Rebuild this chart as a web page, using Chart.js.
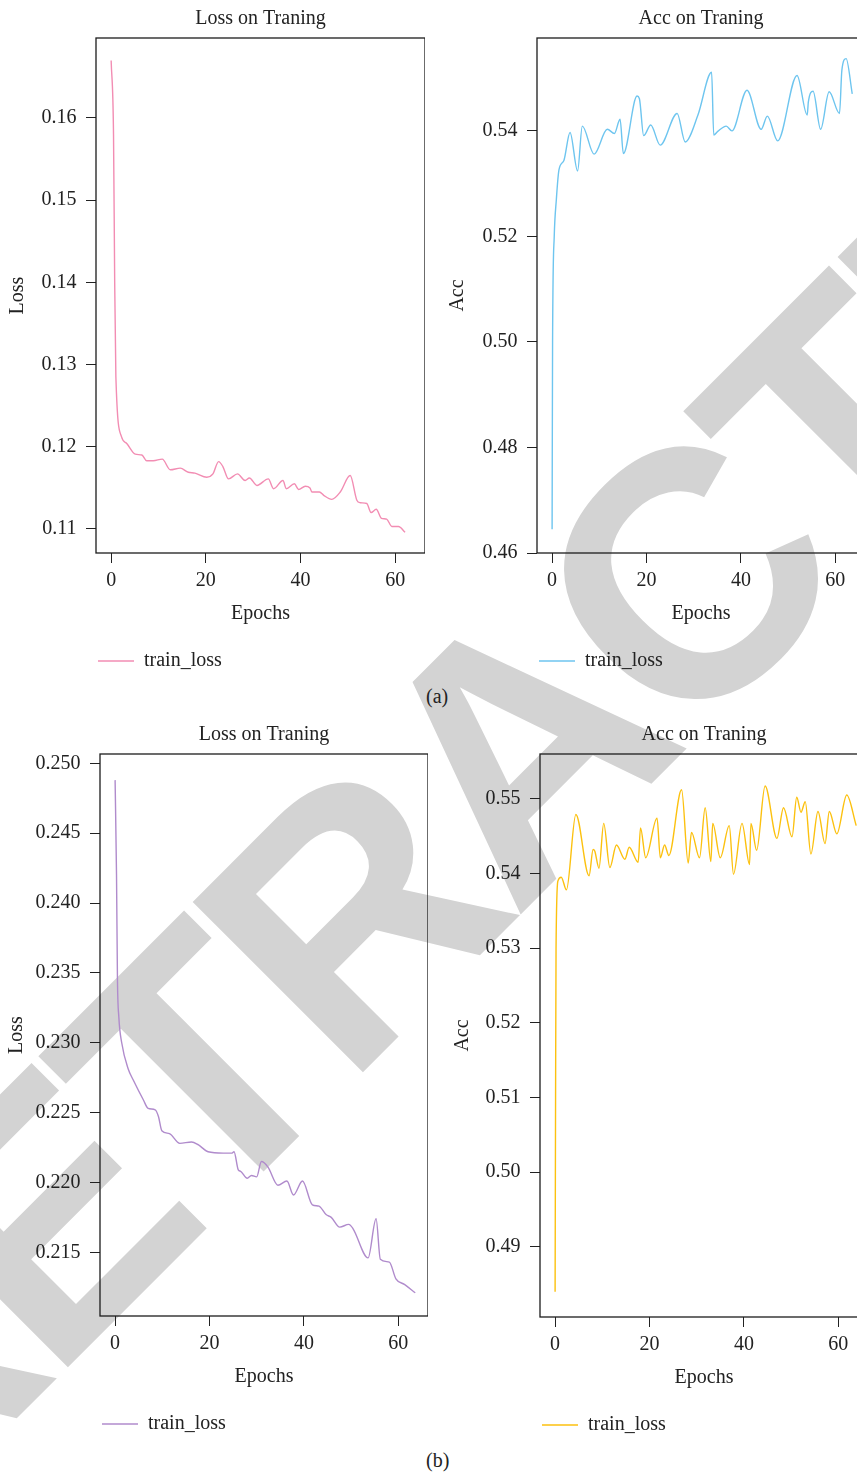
<!DOCTYPE html>
<html>
<head>
<meta charset="utf-8">
<script src="https://cdn.jsdelivr.net/npm/chart.js@4.4.0/dist/chart.umd.min.js"></script>
<style>
  html, body { margin: 0; padding: 0; background: #fff; }
  body { width: 857px; height: 1475px; position: relative; overflow: hidden; font-family: 'Liberation Serif', 'DejaVu Serif', serif; }
  canvas { position: absolute; z-index: 1; }
  #stamp {
    position: absolute; left: 513px; top: 751px; z-index: 0;
    transform: translate(-50%, -50%) rotate(-45deg);
    font: bold 350px 'Liberation Sans', Arial, sans-serif;
    letter-spacing: -15px;
    color: #d3d3d3; line-height: 1; white-space: nowrap;
  }
  .sub { position: absolute; z-index: 1; font-size: 20px; line-height: 20px; color: #222; }
</style>
</head>
<body>
<div id="stamp">RETRACTED</div>
<canvas id="lossA"></canvas>
<canvas id="accA"></canvas>
<canvas id="lossB"></canvas>
<canvas id="accB"></canvas>
<div class="sub" style="left:426px;top:686px">(a)</div>
<div class="sub" style="left:426px;top:1450px">(b)</div>
<script>
// ── data (epoch, value)
const xTicks = [0, 20, 40, 60];

// (a) loss
const lossAEpochs = [0, 0.5, 0.75, 1.0, 2.2, 3.3, 5.1, 6.5, 7.5, 8.9, 10.8, 12.5, 14.6, 16.3, 17.7, 20.2,
  21.5, 22.7, 23.6, 24.8, 26.7, 28.3, 29.2, 30.8, 33.2, 34.3, 36.3, 37.0, 38.7, 39.6, 41.0, 42.0, 42.4,
  44.0, 44.9, 46.6, 48.4, 50.5, 51.9, 52.6, 54.0, 54.9, 56.0, 57.1, 58.2, 59.3, 60.7, 62.1];
const lossAValues = [0.1670, 0.1580, 0.1400, 0.1285, 0.1212, 0.1204, 0.1191, 0.1190, 0.1183, 0.1183, 0.1185,
  0.1172, 0.1174, 0.1169, 0.1168, 0.1163, 0.1167, 0.1182, 0.1176, 0.1161, 0.1167, 0.1159, 0.1162, 0.1153,
  0.1161, 0.1149, 0.1159, 0.1149, 0.1155, 0.1148, 0.1152, 0.1150, 0.1145, 0.1145, 0.1141, 0.1136, 0.1145,
  0.1165, 0.1135, 0.1132, 0.1131, 0.1120, 0.1124, 0.1113, 0.1112, 0.1103, 0.1103, 0.1096];
const lossATicks = [0.11, 0.12, 0.13, 0.14, 0.15, 0.16];

// (a) acc
const accAEpochs = [0, 0.1, 0.45, 0.9, 1.45, 2.5, 3.8, 5.4, 6.4, 8.9, 11.7, 13.2, 14.4, 15.1, 18.0, 18.5,
  19.4, 20.9, 22.9, 26.5, 28.2, 30.9, 33.8, 34.25, 35.1, 36.9, 38.1, 41.3, 44.3, 45.6, 47.8, 51.9, 54.05,
  54.3, 55.3, 56.9, 58.7, 60.9, 61.4, 62.3, 63.6];
const accAValues = [0.4645, 0.5000, 0.5200, 0.5270, 0.5326, 0.5344, 0.5397, 0.5324, 0.5409, 0.5356, 0.5403,
  0.5395, 0.5422, 0.5357, 0.5466, 0.5461, 0.5391, 0.5411, 0.5373, 0.5433, 0.5379, 0.5430, 0.5511, 0.5392,
  0.5399, 0.5409, 0.5400, 0.5477, 0.5403, 0.5428, 0.5381, 0.5505, 0.5430, 0.5455, 0.5475, 0.5403, 0.5474,
  0.5433, 0.5515, 0.5537, 0.5470];
const accATicks = [0.46, 0.48, 0.50, 0.52, 0.54];

// (b) loss
const lossBEpochs = [0, 0.3, 0.5, 0.8, 1.4, 2.8, 3.9, 6.0, 7.0, 8.5, 9.2, 9.9, 11.5, 13.7, 16.2, 17.6, 19.7,
  22.9, 24.7, 25.2, 26.1, 26.6, 28.0, 28.9, 30.0, 31.0, 32.4, 34.5, 36.4, 37.8, 39.7, 41.8, 43.2, 44.7,
  45.8, 47.6, 49.5, 50.4, 53.6, 55.3, 56.2, 58.1, 59.5, 61.3, 63.6];
const lossBValues = [0.2488, 0.2420, 0.2345, 0.2318, 0.2300, 0.2281, 0.2273, 0.2259, 0.2253, 0.2252, 0.2247,
  0.2237, 0.2235, 0.2228, 0.2229, 0.2227, 0.2222, 0.2221, 0.2221, 0.2222, 0.2209, 0.2208, 0.2203, 0.2205,
  0.2204, 0.2215, 0.2211, 0.2198, 0.2201, 0.2191, 0.2201, 0.2184, 0.2183, 0.2177, 0.2175, 0.2168, 0.2170,
  0.2167, 0.2146, 0.2174, 0.2145, 0.2143, 0.2131, 0.2127, 0.2121];
const lossBTicks = [0.215, 0.220, 0.225, 0.230, 0.235, 0.240, 0.245, 0.250];

// (b) acc
const accBEpochs = [0, 0.1, 0.2, 0.6, 1.3, 2.4, 4.4, 7.2, 8.05, 8.4, 9.3, 10.3, 11.6, 13.0, 14.8, 15.7, 17.6,
  18.1, 19.2, 21.6, 22.3, 23.2, 24.1, 26.8, 28.2, 28.9, 30.6, 31.8, 33.0, 33.4, 35.0, 36.9, 37.8, 39.6,
  41.2, 41.5, 42.7, 44.5, 47.0, 48.4, 50.2, 51.2, 52.1, 53.0, 54.2, 55.7, 57.2, 58.1, 59.7, 61.8, 63.8];
const accBValues = [0.4840, 0.5100, 0.5300, 0.5390, 0.5395, 0.5378, 0.5479, 0.5397, 0.5432, 0.5430, 0.5407,
  0.5467, 0.5408, 0.5438, 0.5419, 0.5435, 0.5415, 0.5461, 0.5421, 0.5474, 0.5421, 0.5438, 0.5424, 0.5512,
  0.5414, 0.5455, 0.5421, 0.5488, 0.5416, 0.5467, 0.5421, 0.5464, 0.5399, 0.5467, 0.5412, 0.5467, 0.5431,
  0.5517, 0.5447, 0.5488, 0.5449, 0.5502, 0.5482, 0.5496, 0.5426, 0.5483, 0.5440, 0.5483, 0.5453, 0.5505,
  0.5464];
const accBTicks = [0.49, 0.50, 0.51, 0.52, 0.53, 0.54, 0.55];

const INK = '#222';
Chart.defaults.font.family = "'Liberation Serif', 'DejaVu Serif', serif";
Chart.defaults.font.size = 20;
Chart.defaults.color = INK;

// full box around the plot area (chart.js only draws the axis sides)
const framePlugin = {
  id: 'frame',
  afterDatasetsDraw(chart) {
    const { ctx, chartArea: a } = chart;
    ctx.save();
    ctx.strokeStyle = '#1c1c1c';
    ctx.lineWidth = 1.3;
    ctx.strokeRect(a.left, a.top, a.right - a.left, a.bottom - a.top);
    ctx.restore();
  }
};

function buildTrainChart(id, s) {
  const el = document.getElementById(id);
  el.width = s.width;
  el.height = s.height;
  Object.assign(el.style, { left: s.left + 'px', top: s.top + 'px', width: s.width + 'px', height: s.height + 'px' });

  return new Chart(el, {
    type: 'line',
    data: {
      datasets: [{
        label: 'train_loss',
        data: s.epochs.map((x, i) => ({ x, y: s.values[i] })),
        borderColor: s.color,
        backgroundColor: s.color,
        borderWidth: 1.4,
        pointRadius: 0,
        cubicInterpolationMode: 'monotone',
        fill: false
      }]
    },
    options: {
      responsive: false,
      animation: false,
      devicePixelRatio: 1,
      layout: { padding: 0 },
      plugins: {
        title: {
          display: true, text: s.title, fullSize: false, color: INK,
          font: { size: 20, weight: 'normal' },
          padding: { top: 7, bottom: 7 }
        },
        legend: {
          position: 'bottom', align: 'start', fullSize: false,
          labels: {
            usePointStyle: true, pointStyle: 'line', pointStyleWidth: 36,
            padding: 2, color: INK, font: { size: 20 }
          }
        },
        tooltip: { enabled: false }
      },
      scales: {
        x: {
          type: 'linear', min: -3.2, max: 66.3,
          afterBuildTicks: sc => { sc.ticks = xTicks.map(v => ({ value: v })); },
          afterFit: sc => { sc.height = 96; },
          grid: { drawOnChartArea: false, tickLength: 10, color: INK },
          border: { display: false },
          ticks: { padding: 6, color: INK },
          title: { display: true, text: 'Epochs', color: INK, padding: { top: 0, bottom: 23 } }
        },
        y: {
          type: 'linear', min: s.yMin, max: s.yMax,
          afterBuildTicks: sc => { sc.ticks = s.yTicks.map(v => ({ value: v })); },
          afterFit: sc => { sc.width = s.yWidth; },
          grid: { drawOnChartArea: false, tickLength: 10, color: INK },
          border: { display: false },
          ticks: { padding: 9.5, color: INK, callback: v => v.toFixed(s.digits) },
          title: { display: true, text: s.yLabel, color: INK, padding: { top: s.yTitlePad, bottom: 0 } }
        }
      }
    },
    plugins: [framePlugin]
  });
}

buildTrainChart('lossA', {
  left: 0, top: 0, width: 425, height: 681, yWidth: 96, yTitlePad: 6,
  epochs: lossAEpochs, values: lossAValues, yTicks: lossATicks, digits: 2,
  yMin: 0.10708, yMax: 0.16973, title: 'Loss on Traning', yLabel: 'Loss', color: '#f28db3'
});
buildTrainChart('accA', {
  left: 441, top: 0, width: 424, height: 681, yWidth: 96, yTitlePad: 5,
  epochs: accAEpochs, values: accAValues, yTicks: accATicks, digits: 2,
  yMin: 0.46, yMax: 0.5576, title: 'Acc on Traning', yLabel: 'Acc', color: '#6ec5ef'
});
buildTrainChart('lossB', {
  left: 0, top: 716, width: 428, height: 728, yWidth: 100, yTitlePad: 4.5,
  epochs: lossBEpochs, values: lossBValues, yTicks: lossBTicks, digits: 3,
  yMin: 0.21044, yMax: 0.25067, title: 'Loss on Traning', yLabel: 'Loss', color: '#b08bcc'
});
buildTrainChart('accB', {
  left: 440, top: 716, width: 428, height: 729, yWidth: 100, yTitlePad: 11,
  epochs: accBEpochs, values: accBValues, yTicks: accBTicks, digits: 2,
  yMin: 0.48062, yMax: 0.55599, title: 'Acc on Traning', yLabel: 'Acc', color: '#fcc10f'
});
</script>
</body>
</html>
